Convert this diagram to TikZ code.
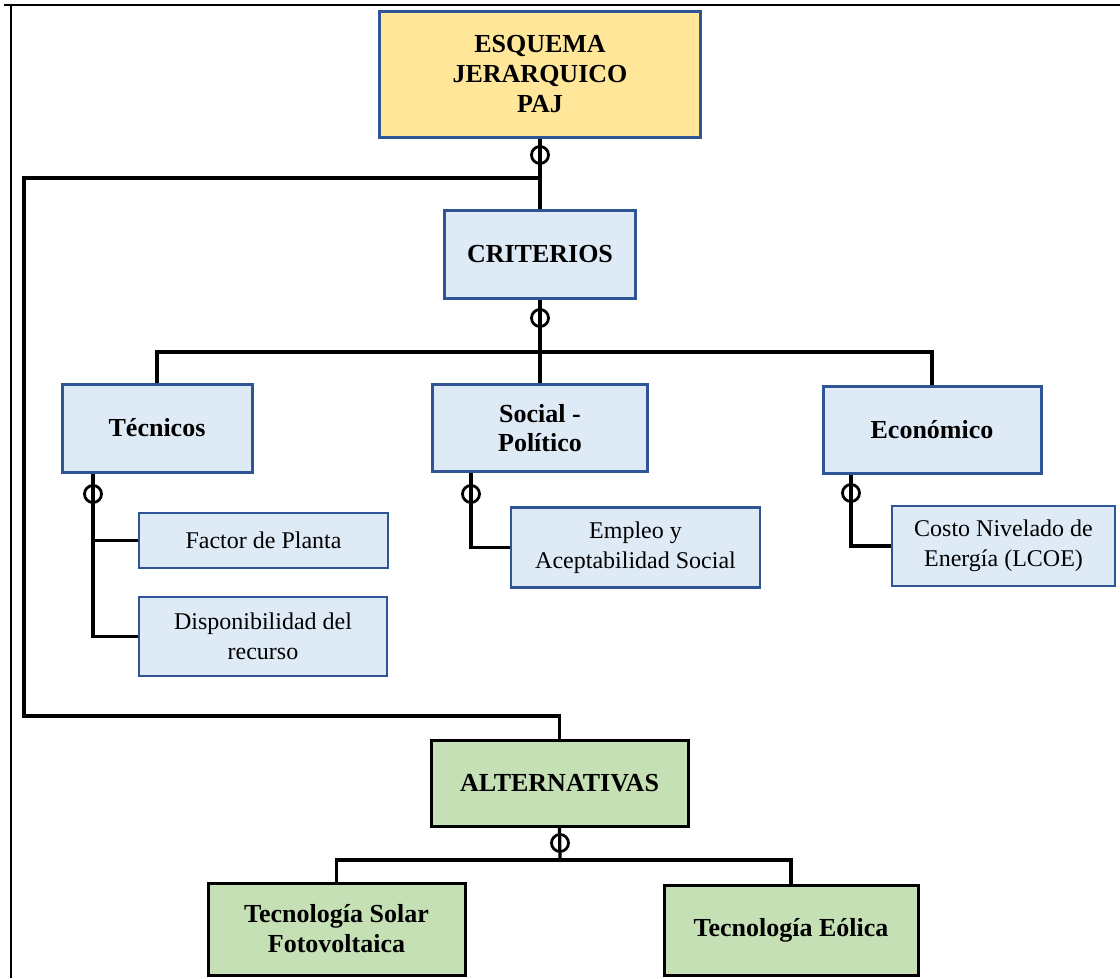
\documentclass[tikz,border=0pt]{standalone}
\usepackage{fontspec}
\setmainfont{Liberation Serif}
\definecolor{boxblue}{RGB}{47,85,151}
\definecolor{paleblue}{RGB}{222,235,247}
\definecolor{paleyellow}{RGB}{255,230,153}
\definecolor{palegreen}{RGB}{197,224,180}
\begin{document}
\begin{tikzpicture}[x=1pt,y=-1pt,
  base/.style={rectangle, line width=3pt, align=center, inner sep=0pt},
  head/.style={base, draw=boxblue, fill=paleyellow, font=\bfseries\fontsize{26}{30}\selectfont},
  crit/.style={base, draw=boxblue, fill=paleblue, font=\bfseries\fontsize{26}{29}\selectfont},
  sub/.style={base, draw=boxblue, fill=paleblue, line width=2.8pt, font=\fontsize{24}{30}\selectfont},
  alt/.style={base, draw=black, fill=palegreen, font=\bfseries\fontsize{26}{30}\selectfont},
  conn/.style={draw=black, line width=3.2pt},
  ring/.style={circle, draw=black, line width=2.8pt, minimum size=17pt, inner sep=0pt}
]
\useasboundingbox (0,0) rectangle (1120,978);

% outer frame (top rule and left rule)
\draw[line width=2.8pt] (4,5) -- (1120,5);
\draw[line width=2.2pt] (11,5) -- (11,978);

% boxes
\node[head, minimum width=321pt, minimum height=126pt] (top) at (540,74) {ESQUEMA\\JERARQUICO\\PAJ};
\node[crit, minimum width=191pt, minimum height=88pt] (crit) at (540,254) {CRITERIOS};

\node[crit, minimum width=190pt, minimum height=88pt] (tec) at (157,428) {Técnicos};
\node[crit, minimum width=215pt, minimum height=87pt] (soc) at (540,428) {Social -\\Político};
\node[crit, minimum width=218pt, minimum height=87pt] (eco) at (932,429.5) {Económico};

\node[sub, minimum width=249pt, minimum height=55pt] (fac) at (263.5,540.5) {Factor de Planta};
\node[sub, minimum width=248pt, minimum height=79pt] (dis) at (263,636.5) {Disponibilidad del\\recurso};
\node[sub, minimum width=249pt, minimum height=80pt] (emp) at (635.5,547.5) {Empleo y\\Aceptabilidad Social};
\node[sub, minimum width=223pt, minimum height=80pt] (cos) at (1003.5,546) {Costo Nivelado de\\Energía (LCOE)};

\node[alt, minimum width=257pt, minimum height=86pt] (alts) at (559.5,783) {ALTERNATIVAS};
\node[alt, minimum width=257pt, minimum height=92pt] (sol) at (336.5,929) {Tecnología Solar\\Fotovoltaica};
\node[alt, minimum width=254pt, minimum height=90pt] (eol) at (791,930) {Tecnología Eólica};

% junction points
\coordinate (j1) at (540,178);
\coordinate (loopA) at (24,178);
\coordinate (loopB) at (24,716);
\coordinate (h1) at (540,352);
\coordinate (h2) at (560,860);
\coordinate (tv) at (93,0);
\coordinate (sv) at (471,0);
\coordinate (ev) at (851,0);

% connectors
\draw[conn] (top.south) -- (crit.north);
\draw[conn] (j1) -- (loopA) -- (loopB) -| (alts.north);
\draw[conn] (crit.south) -- (h1);
\draw[conn] (tec.north) |- (h1) -| (eco.north);
\draw[conn] (h1) -- (soc.north);

\draw[conn] (tec.south -| tv) |- (dis.west);
\draw[conn] (tv |- fac.west) -- (fac.west);
\draw[conn] (soc.south -| sv) |- (emp.west);
\draw[conn] (eco.south -| ev) |- (cos.west);

\draw[conn] (alts.south) -- (h2);
\draw[conn] (sol.north) |- (h2) -| (eol.north);

% optional-link rings
\node[ring] (r1) at (540,155) {};
\node[ring] (r2) at (540,318) {};
\node[ring] (r3) at (93,494) {};
\node[ring] (r4) at (471,494) {};
\node[ring] (r5) at (851,493) {};
\node[ring] (r6) at (560,843) {};
\end{tikzpicture}
\end{document}
